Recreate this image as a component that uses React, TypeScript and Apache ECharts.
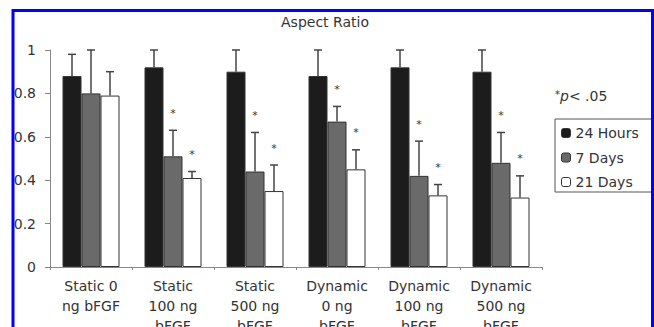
import React, { useEffect, useRef } from "react";
import * as echarts from "echarts";

const categories = [
  "Static 0\nng bFGF",
  "Static\n100 ng\nbFGF",
  "Static\n500 ng\nbFGF",
  "Dynamic\n0 ng\nbFGF",
  "Dynamic\n100 ng\nbFGF",
  "Dynamic\n500 ng\nbFGF",
];
const seriesNames = ["24 Hours", "7 Days", "21 Days"];
const hours24 = [0.88, 0.92, 0.9, 0.88, 0.92, 0.9];
const hours24Err = [0.1, 0.08, 0.1, 0.12, 0.08, 0.1];
const days7 = [0.8, 0.51, 0.44, 0.67, 0.42, 0.48];
const days7Err = [0.2, 0.12, 0.18, 0.07, 0.16, 0.14];
const days21 = [0.79, 0.41, 0.35, 0.45, 0.33, 0.32];
const days21Err = [0.11, 0.03, 0.12, 0.09, 0.05, 0.1];
const sig24 = [false, false, false, false, false, false];
const sig7 = [false, true, true, true, true, true];
const sig21 = [false, true, true, true, true, true];
const yTicks = [0, 0.2, 0.4, 0.6, 0.8, 1];

const FONT = "'DejaVu Sans', Verdana, sans-serif";

export default function App() {
  const ref = useRef<HTMLDivElement>(null);
  useEffect(() => {
    if (!ref.current) return;
    const chart = echarts.init(ref.current, null, { renderer: "svg" });
    const barW = 19;
    const colors = ["#1c1c1c", "#6a6a6a", "#ffffff"];
    const vals = [hours24, days7, days21];
    const errs = [hours24Err, days7Err, days21Err];
    const sigs = [sig24, sig7, sig21];
    const offsets = [-barW, 0, barW];

    const barSeries = seriesNames.map((name, i) => ({
      name,
      type: "bar",
      data: vals[i],
      barWidth: barW,
      barGap: "0%",
      itemStyle: { color: colors[i], borderColor: "#333", borderWidth: 1 },
    }));

    const errSeries = seriesNames.map((name, i) => ({
      type: "custom",
      name: name + "-err",
      z: 5,
      itemStyle: { color: "#333" },
      data: vals[i].map((v, k) => [k, v, errs[i][k], sigs[i][k] ? 1 : 0]),
      renderItem: (params: any, api: any) => {
        const k = api.value(0);
        const v = api.value(1);
        const e = api.value(2);
        const s = api.value(3);
        const p0 = api.coord([k, v]);
        const p1 = api.coord([k, v + e]);
        const x = p0[0] + offsets[i];
        const children: any[] = [
          {
            type: "line",
            shape: { x1: x, y1: p0[1], x2: x, y2: p1[1] },
            style: { stroke: "#444", lineWidth: 1.5 },
          },
          {
            type: "line",
            shape: { x1: x - 4, y1: p1[1], x2: x + 4, y2: p1[1] },
            style: { stroke: "#444", lineWidth: 1.5 },
          },
        ];
        if (s) {
          children.push({
            type: "text",
            style: {
              x: x,
              y: p1[1] - 17,
              text: "*",
              fill: "#333",
              font: "11px " + FONT,
              align: "center",
              verticalAlign: "middle",
            },
          });
        }
        return { type: "group", children };
      },
    }));

    chart.setOption({
      animation: false,
      backgroundColor: "#ffffff",
      title: {
        text: "Aspect Ratio",
        left: 320,
        textAlign: "center",
        top: 10,
        textStyle: { fontFamily: FONT, fontSize: 14, fontWeight: "normal", color: "#333" },
      },
      grid: {
        left: 50,
        right: 112,
        top: 50,
        bottom: 60,
        containLabel: false,
        outerBoundsMode: "none",
      },
      legend: {
        data: seriesNames,
        orient: "vertical",
        left: 555,
        top: 119,
        itemWidth: 9,
        itemHeight: 9,
        itemGap: 10.5,
        borderColor: "#555",
        borderWidth: 1,
        borderRadius: 0,
        padding: [7, 40, 3, 6],
        textStyle: { fontFamily: FONT, fontSize: 14, color: "#333" },
        itemStyle: { borderColor: "#333", borderWidth: 1 },
      },
      xAxis: {
        type: "category",
        data: categories,
        axisLine: { lineStyle: { color: "#888" } },
        axisTick: { show: true, length: 3, lineStyle: { color: "#888" } },
        axisLabel: {
          margin: 9,
          fontFamily: FONT,
          fontSize: 14,
          lineHeight: 20,
          color: "#333",
          interval: 0,
        },
      },
      yAxis: {
        type: "value",
        min: 0,
        max: 1,
        interval: 0.2,
        splitLine: { show: false },
        axisLine: { show: true, lineStyle: { color: "#888" } },
        axisTick: { show: true, length: 5, lineStyle: { color: "#888" } },
        axisLabel: {
          margin: 14,
          fontFamily: FONT,
          fontSize: 14,
          color: "#333",
          formatter: (v: number) => {
            const t = yTicks.find((y) => Math.abs(y - v) < 1e-6);
            return t === undefined ? "" : String(Number(t.toFixed(1)));
          },
        },
      },
      graphic: [
        {
          type: "text",
          left: 555,
          top: 89,
          style: {
            text: "{a|*}{p|p}< .05",
            rich: {
              a: { fontFamily: FONT, fontSize: 10, verticalAlign: "top", fill: "#333" },
              p: { fontFamily: FONT, fontSize: 14, fontStyle: "italic", fill: "#333" },
            },
            font: "14px " + FONT,
            fill: "#333",
          },
        },
        {
          type: "rect",
          z: 100,
          shape: { x: 13, y: 10.5, width: 639.5, height: 340 },
          style: { fill: "none", stroke: "#0000ff", lineWidth: 3 },
        },
      ],
      series: [...barSeries, ...errSeries],
    });
    return () => chart.dispose();
  }, []);
  return (
    <div
      ref={ref}
      style={{ position: "fixed", left: 0, top: 0, width: 654, height: 327, background: "#fff" }}
    />
  );
}
